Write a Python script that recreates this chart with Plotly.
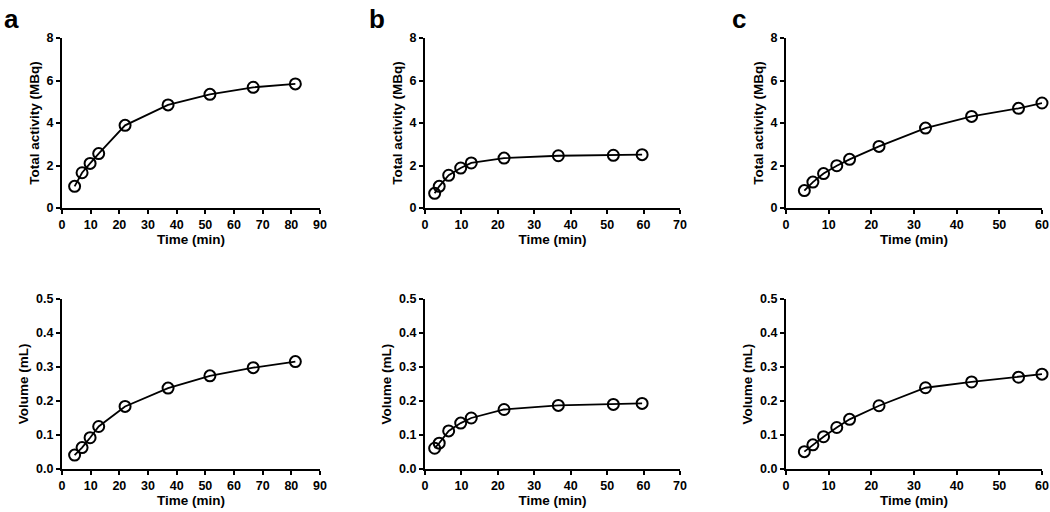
import plotly.graph_objects as go

# Panel a
time_a = [4.4, 7.0, 9.8, 12.8, 22.0, 37.0, 51.6, 66.7, 81.4]
act_a = [1.02, 1.66, 2.10, 2.56, 3.89, 4.85, 5.35, 5.68, 5.84]
vol_a = [0.041, 0.063, 0.092, 0.125, 0.184, 0.238, 0.274, 0.298, 0.316]

# Panel b
time_b = [2.65, 3.9, 6.5, 9.8, 12.7, 21.7, 36.6, 51.7, 59.6]
act_b = [0.69, 1.02, 1.54, 1.88, 2.12, 2.35, 2.46, 2.48, 2.51]
vol_b = [0.061, 0.076, 0.112, 0.135, 0.150, 0.175, 0.187, 0.190, 0.193]

# Panel c
time_c = [4.3, 6.3, 8.8, 11.9, 14.9, 21.8, 32.7, 43.5, 54.5, 60.0]
act_c = [0.82, 1.22, 1.62, 1.99, 2.29, 2.90, 3.76, 4.31, 4.69, 4.94]
vol_c = [0.051, 0.071, 0.095, 0.122, 0.146, 0.186, 0.239, 0.256, 0.270, 0.279]

panel_letters = ["a", "b", "c"]
x_max = [90, 70, 60]
y_title_top = "Total activity (MBq)"
y_title_bottom = "Volume (mL)"
x_title = "Time (min)"

W, H = 1050, 512
x_px = [(62, 320), (425, 680), (786, 1042)]
y_px = [(38, 208), (299, 469)]

FONT = "Liberation Sans, Arial, sans-serif"

fig = go.Figure()

datasets = [(time_a, act_a, vol_a), (time_b, act_b, vol_b), (time_c, act_c, vol_c)]

axis_idx = 0
for col, (t, act, vol) in enumerate(datasets):
    for row, (vals, ytitle, yr, dt, fmt) in enumerate([
        (act, y_title_top, [0, 8], 2, "d"),
        (vol, y_title_bottom, [0, 0.5], 0.1, ".1f"),
    ]):
        axis_idx += 1
        xa = "x" if axis_idx == 1 else f"x{axis_idx}"
        ya = "y" if axis_idx == 1 else f"y{axis_idx}"
        fig.add_trace(go.Scatter(
            x=t, y=vals, xaxis=xa, yaxis=ya, mode="lines+markers",
            line=dict(color="black", width=1.8),
            marker=dict(symbol="circle-open", size=11, color="black",
                        line=dict(color="black", width=2)),
            cliponaxis=False, showlegend=False,
        ))
        xk = "xaxis" if axis_idx == 1 else f"xaxis{axis_idx}"
        yk = "yaxis" if axis_idx == 1 else f"yaxis{axis_idx}"
        x0, x1 = x_px[col]
        yt, yb = y_px[row]
        fig.layout[xk] = dict(
            domain=[x0 / W, x1 / W], anchor=ya, range=[0, x_max[col]], dtick=10,
            automargin=False,
            showline=True, linecolor="black", linewidth=2, ticks="outside",
            ticklen=4, tickwidth=1.8, tickcolor="black", showgrid=False, zeroline=False,
            tickfont=dict(family=FONT, size=12.5, color="black", weight="bold"),
            title=dict(text=x_title, standoff=4,
                       font=dict(family=FONT, size=13.5, color="black", weight="bold")),
        )
        fig.layout[yk] = dict(
            domain=[1 - yb / H, 1 - yt / H], anchor=xa, range=yr, dtick=dt, tickformat=fmt,
            automargin=False,
            showline=True, linecolor="black", linewidth=2, ticks="outside",
            ticklen=4, tickwidth=1.8, tickcolor="black", showgrid=False, zeroline=False,
            tickfont=dict(family=FONT, size=12.5, color="black", weight="bold"),
            title=dict(text=ytitle, standoff=4,
                       font=dict(family=FONT, size=13.5, color="black", weight="bold")),
        )

letter_x = [2, 367, 730]
for i, letter in enumerate(panel_letters):
    fig.add_annotation(
        x=letter_x[i] / W, y=1 - 2 / H, xref="paper", yref="paper",
        xanchor="left", yanchor="top", text=letter, showarrow=False,
        font=dict(family=FONT, size=26, color="black", weight="bold"),
    )

fig.update_layout(
    width=W, height=H, margin=dict(l=0, r=0, t=0, b=0),
    plot_bgcolor="white", paper_bgcolor="white",
)

fig.write_html("out.html", config={"displayModeBar": False},
               post_script="document.body.style.margin='0';document.body.style.overflow='hidden';")
